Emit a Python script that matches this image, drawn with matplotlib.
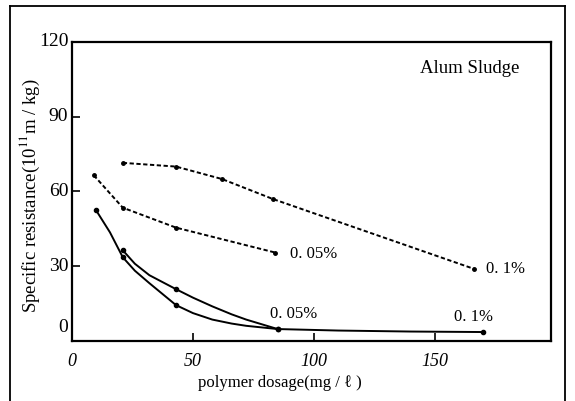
import matplotlib
matplotlib.use("Agg")
import matplotlib.pyplot as plt
from matplotlib.lines import Line2D

plt.rcParams['font.family'] = ['Liberation Serif', 'DejaVu Serif']
plt.rcParams['mathtext.fontset'] = 'stix'

# Dotted (upper) series
dot01_x = [21, 43, 62, 83, 166]
dot01_y = [71.5, 70, 65, 57, 29]
dot005_x = [9, 21, 43, 84]
dot005_y = [66.5, 53.5, 45.5, 35.5]

# Solid (lower) series
sol005_x = [10, 15.7, 21, 26, 32, 43, 50, 58, 66, 72, 85]
sol005_y = [52.4, 43.6, 33.6, 28.2, 23.2, 14.4, 11.2, 8.6, 7.0, 6.1, 4.8]
sol01_x = [21, 26, 32, 43, 50, 58, 66, 72, 85, 110, 140, 170]
sol01_y = [36.4, 31, 26.4, 20.8, 17.4, 13.9, 10.7, 8.6, 4.8, 4.2, 3.8, 3.6]

xticks = [0, 50, 100, 150]
yticks = [0, 30, 60, 90, 120]

fig = plt.figure(figsize=(5.75, 4.01), dpi=100)
ax = fig.add_axes([0.1252, 0.1496, 0.9583 - 0.1252, 0.8953 - 0.1496])

ls_dot = (0, (2.2, 1.3))
ax.plot(dot01_x, dot01_y, color='black', lw=1.4, ls=ls_dot,
        marker='o', ms=2.5)
ax.plot(dot005_x, dot005_y, color='black', lw=1.4, ls=ls_dot,
        marker='o', ms=2.5)
ax.plot(sol005_x, sol005_y, color='black', lw=1.4,
        marker='o', ms=3, markevery=[0, 2, 5, 10])
ax.plot(sol01_x, sol01_y, color='black', lw=1.4,
        marker='o', ms=3, markevery=[0, 3, 8, 11])

ax.set_xlim(0, 198)
ax.set_ylim(0, 120)
ax.set_xticks(xticks[1:])
ax.set_yticks(yticks[1:4])
ax.tick_params(direction='in', length=6, width=1.2, labelsize=1, labelcolor='none')
for s in ax.spines.values():
    s.set_linewidth(1.6)

# tick labels as text
for xv in xticks:
    ax.text(xv, -5, str(xv), ha='center', va='top', fontsize=13,
            style='italic', transform=ax.transData, clip_on=False)
for yv in yticks:
    yy = yv if yv > 0 else 5.5
    ax.text(-1.5, yy, str(yv), ha='right', va='center', fontsize=14,
            transform=ax.transData, clip_on=False)

ax.text(0.83, 0.91, 'Alum Sludge', transform=ax.transAxes, fontsize=13.5,
        ha='center', va='center')
ax.text(90, 35, '0. 05%', fontsize=12, ha='left', va='center')
ax.text(171, 29, '0. 1%', fontsize=12, ha='left', va='center')
ax.text(82, 11, '0. 05%', fontsize=12, ha='left', va='center')
ax.text(158, 9.5, '0. 1%', fontsize=12, ha='left', va='center')

fig.text(280 / 575, 1 - 383 / 401, 'polymer dosage(mg / ℓ )', fontsize=12,
         ha='center', va='center')
fig.text(30 / 575, 1 - 196 / 401, 'Specific resistance(10$^{11}$m / kg)',
         fontsize=13.5, ha='center', va='center', rotation=90)

# outer frame
fx0, fx1, fy1 = 10 / 575, 565 / 575, 1 - 6 / 401
for xs, ys in [([fx0, fx0], [0, fy1]), ([fx1, fx1], [0, fy1]), ([fx0, fx1], [fy1, fy1])]:
    fig.add_artist(Line2D(xs, ys, color='black', lw=1.3, transform=fig.transFigure))

fig.savefig('out.png', dpi=100)
